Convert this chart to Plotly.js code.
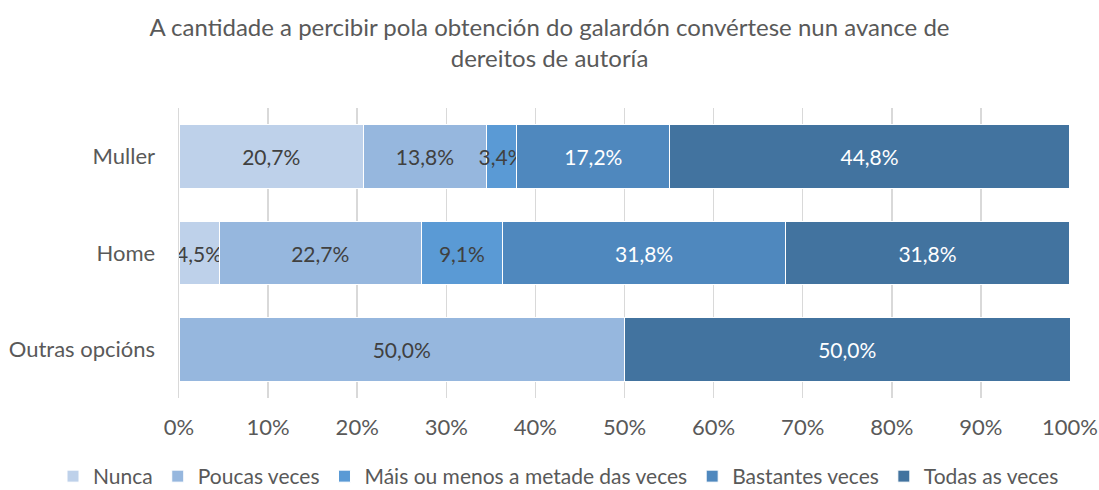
<!DOCTYPE html>
<html><head><meta charset="utf-8">
<script src="https://cdn.plot.ly/plotly-3.0.1.min.js"></script>
<style>body{margin:0;background:#fff}#c{width:1099px;height:490px}</style>
</head><body><div id="c"></div>
<script>
const categories = ["Muller", "Home", "Outras opcións"];
const seriesNames = ["Nunca", "Poucas veces", "Máis ou menos a metade das veces", "Bastantes veces", "Todas as veces"];
const nunca = [20.7, 4.5, 0];
const poucas = [13.8, 22.7, 50.0];
const mais = [3.4, 9.1, 0];
const bastantes = [17.2, 31.8, 0];
const todas = [44.8, 31.8, 50.0];
const tickVals = [0, 10, 20, 30, 40, 50, 60, 70, 80, 90, 100];
const tickText = ["0%", "10%", "20%", "30%", "40%", "50%", "60%", "70%", "80%", "90%", "100%"];

const colors = ["#BED1EA", "#96B7DE", "#5A9AD5", "#4F88BE", "#42739F"];
const textColors = ["#404040", "#404040", "#404040", "#FFFFFF", "#FFFFFF"];
const all = [nunca, poucas, mais, bastantes, todas];
const fmt = v => v > 0 ? v.toFixed(1).replace('.', ',') + '%' : '';

const traces = all.map((vals, i) => ({
  type: 'bar', orientation: 'h', name: seriesNames[i],
  y: categories, x: vals,
  text: vals.map(fmt), textposition: 'inside', insidetextanchor: 'middle',
  constraintext: 'none', textangle: 0,
  textfont: {family: 'Lato, sans-serif', size: 21, color: textColors[i]},
  marker: {color: colors[i], line: {color: '#FFFFFF', width: 1}},
  hoverinfo: 'skip'
}));

const layout = {
  width: 1099, height: 490,
  margin: {l: 179, r: 29, t: 108, b: 92, autoexpand: false},
  barmode: 'stack', bargap: 0.34,
  paper_bgcolor: '#fff', plot_bgcolor: '#fff',
  font: {family: 'Lato, sans-serif', color: '#595959', size: 22},
  title: {text: 'A cantidade a percibir pola obtención do galardón convértese nun avance de<br>dereitos de autoría',
    font: {size: 24, color: '#595959'}, x: 0.5, xanchor: 'center', xref: 'container',
    y: 0.926, yanchor: 'top', yref: 'container'},
  xaxis: {range: [0, 100], tickvals: tickVals, ticktext: tickText, showgrid: true,
    gridcolor: '#D9D9D9', gridwidth: 1.5, zeroline: false, showline: false, ticks: '',
    ticklabelstandoff: 14,
    tickfont: {size: 22, color: '#595959'}, fixedrange: true},
  yaxis: {autorange: 'reversed', showgrid: false, showline: true, linecolor: '#D9D9D9', linewidth: 1.5,
    ticks: '', ticklabelstandoff: 18, tickfont: {size: 22, color: '#595959'}, fixedrange: true},
  legend: {orientation: 'h', x: -0.1414, xanchor: 'left', xref: 'paper',
    y: -0.2, yanchor: 'top', yref: 'paper',
    font: {size: 21, color: '#595959'}, itemwidth: 30, traceorder: 'normal'},
  showlegend: true
};
Plotly.newPlot('c', traces, layout, {displayModeBar: false, staticPlot: true});
</script></body></html>
